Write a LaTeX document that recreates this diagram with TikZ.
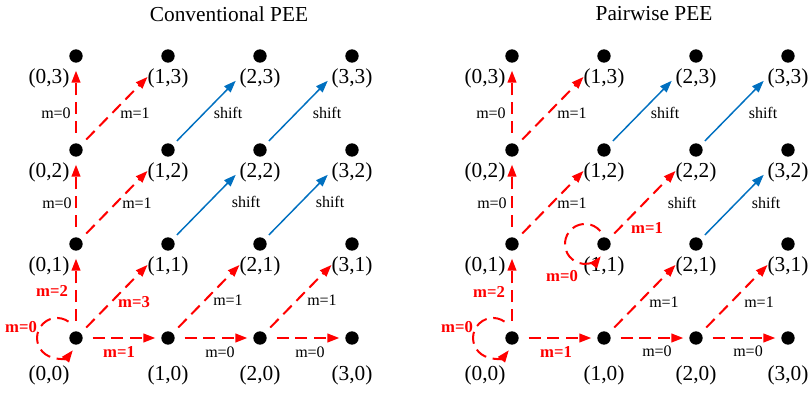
\documentclass[tikz,border=0pt]{standalone}
\usepackage{fontspec}
\setmainfont{Liberation Serif}
\usetikzlibrary{arrows.meta,calc}
\definecolor{shiftblue}{RGB}{0,112,192}

\begin{document}
\begin{tikzpicture}[
  x=0.75pt, y=0.75pt,
  dot/.style={circle, fill=black, inner sep=0pt, outer sep=0pt, minimum size=10pt},
  coord/.style={font=\fontsize{16}{18}\selectfont, inner sep=0pt},
  title/.style={font=\fontsize{16}{18}\selectfont, inner sep=0pt},
  lbl/.style={font=\fontsize{12}{14}\selectfont, inner sep=0pt},
  hot/.style={inner sep=0pt, red, font=\fontsize{12.5}{14}\selectfont\bfseries},
  redarrow/.style={-{Triangle[length=9pt,width=6.5pt]}, red, line width=1.5pt,
                   dash pattern=on 9pt off 5pt},
  bluearrow/.style={-{Triangle[length=9pt,width=6.5pt]}, shiftblue, line width=1.1pt},
  hz/.style={shorten <=7.5pt, shorten >=4.5pt},
  vt/.style={shorten <=8pt, shorten >=6pt},
  dg/.style={shorten <=6pt, shorten >=17pt},
  sh/.style={shorten <=4.5pt, shorten >=21pt}
]
\useasboundingbox (0,0) rectangle (809,393);

% Titles
\node[title] (tl) at (229,379) {Conventional PEE};
\node[title] (tr) at (654,379) {Pairwise PEE};

% Grid of points, both panels
\foreach \p/\ox in {L/76,R/512}{
  \foreach \i in {0,...,3}{
    \foreach \j in {0,...,3}{
      \node[dot] (\p\i\j) at (\ox+92*\i, 55+94*\j) {};
      \pgfmathsetmacro\dx{\i==0 ? -27 : 0}
      \pgfmathsetmacro\dy{\j==0 ? -37 : -22}
      \node[coord] (t\p\i\j) at ($(\p\i\j)+(\dx,\dy)$) {(\i,\j)};
    }
  }
}

% Conventional PEE
\draw[redarrow] ($(L00)+(-7.5,16.4)$) arc[start angle=55, end angle=322, radius=20];
\draw[redarrow, hz] (L00) -- (L10);
\draw[redarrow, vt] (L00) -- (L01);
\draw[redarrow, dg] (L00) -- (L11);
\draw[redarrow, hz] (L10) -- (L20);
\draw[redarrow, hz] (L20) -- (L30);
\draw[redarrow, dg] (L10) -- (L21);
\draw[redarrow, dg] (L20) -- (L31);
\draw[redarrow, vt] (L01) -- (L02);
\draw[redarrow, dg] (L01) -- (L12);
\draw[redarrow, vt] (L02) -- (L03);
\draw[redarrow, dg] (L02) -- (L13);
\draw[bluearrow, sh] (L11) -- (L22);
\draw[bluearrow, sh] (L21) -- (L32);
\draw[bluearrow, sh] (L12) -- (L23);
\draw[bluearrow, sh] (L22) -- (L33);

\node[hot] (la) at (21,66) {m=0};
\node[hot] (lb) at (52,102) {m=2};
\node[hot] (lc) at (134,91) {m=3};
\node[hot] (ld) at (119,41) {m=1};
\node[lbl] (le) at (220,41) {m=0};
\node[lbl] (lf) at (310,41) {m=0};
\node[lbl] (lg) at (228,93) {m=1};
\node[lbl] (lh) at (322,93) {m=1};
\node[lbl] (li) at (57,190) {m=0};
\node[lbl] (lj) at (137,190) {m=1};
\node[lbl] (lk) at (246,191) {shift};
\node[lbl] (ll) at (330,191) {shift};
\node[lbl] (lm) at (56,280) {m=0};
\node[lbl] (ln) at (135,280) {m=1};
\node[lbl] (lo) at (228,280) {shift};
\node[lbl] (lp) at (327,280) {shift};

% Pairwise PEE
\draw[redarrow] ($(R00)+(-7.5,16.4)$) arc[start angle=55, end angle=322, radius=20];
\draw[redarrow] ($(R11)+(-3.7,12.9)$) arc[start angle=40, end angle=322, radius=20];
\draw[redarrow, hz] (R00) -- (R10);
\draw[redarrow, vt] (R00) -- (R01);
\draw[redarrow, hz] (R10) -- (R20);
\draw[redarrow, hz] (R20) -- (R30);
\draw[redarrow, dg] (R10) -- (R21);
\draw[redarrow, dg] (R20) -- (R31);
\draw[redarrow, dg] (R11) -- (R22);
\draw[redarrow, vt] (R01) -- (R02);
\draw[redarrow, dg] (R01) -- (R12);
\draw[redarrow, vt] (R02) -- (R03);
\draw[redarrow, dg] (R02) -- (R13);
\draw[bluearrow, sh] (R21) -- (R32);
\draw[bluearrow, sh] (R12) -- (R23);
\draw[bluearrow, sh] (R22) -- (R33);

\node[hot] (ra) at (457,66) {m=0};
\node[hot] (rb) at (489,101) {m=2};
\node[hot] (rc) at (556,41) {m=1};
\node[lbl] (rd) at (657,42) {m=0};
\node[lbl] (re) at (748,42) {m=0};
\node[lbl] (rf) at (664,91) {m=1};
\node[lbl] (rg) at (759,91) {m=1};
\node[hot] (rh) at (562,117) {m=0};
\node[hot] (ri) at (647,165) {m=1};
\node[lbl] (rj) at (492,190) {m=0};
\node[lbl] (rk) at (572,190) {m=1};
\node[lbl] (rl) at (682,190) {shift};
\node[lbl] (rm) at (766,190) {shift};
\node[lbl] (rn) at (491,280) {m=0};
\node[lbl] (ro) at (572,280) {m=1};
\node[lbl] (rp) at (665,280) {shift};
\node[lbl] (rq) at (763,280) {shift};

\end{tikzpicture}
\end{document}
